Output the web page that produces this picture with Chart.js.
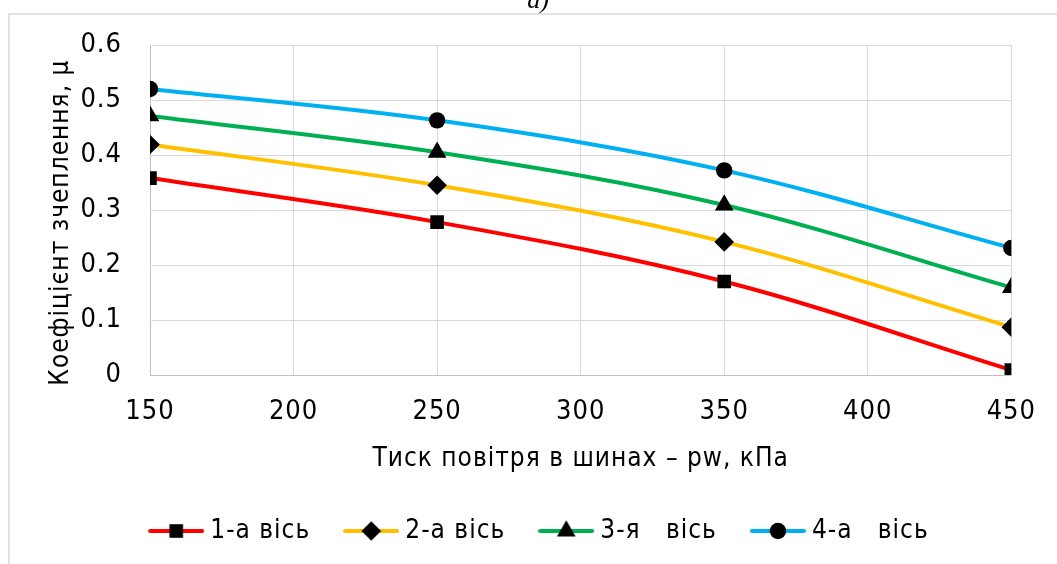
<!DOCTYPE html>
<html>
<head>
<meta charset="utf-8">
<script src="https://cdn.jsdelivr.net/npm/chart.js@4.4.1/dist/chart.umd.min.js"></script>
<style>
  html, body { margin: 0; padding: 0; background: #fff; overflow: hidden; }
  canvas { display: block; }
</style>
</head>
<body>
<canvas id="chart" width="1057" height="564"></canvas>
<script>
// Tyre air pressure, kPa
const pressures = [150, 250, 350, 450];
// Adhesion coefficient per axle
const axle1 = [0.358, 0.278, 0.170, 0.009];
const axle2 = [0.419, 0.345, 0.242, 0.087];
const axle3 = [0.471, 0.405, 0.309, 0.159];
const axle4 = [0.520, 0.463, 0.372, 0.231];

const seriesNames = ['1-а вісь', '2-а вісь', '3-я   вісь', '4-а   вісь'];
const seriesValues = [axle1, axle2, axle3, axle4];
const seriesColors = ['#FF0000', '#FFC000', '#00B050', '#00B0F0'];
const markerStyles = ['rect', 'rectRot', 'triangle', 'circle'];
const markerRadii = [9.6, 9.8, 10.8, 8.2];

const xTitle = 'Тиск повітря в шинах – pw, кПа';
const yTitle = 'Коефіцієнт зчеплення, μ   ';
const panelLabel = 'а)';

const TEXT_FONT = '"DejaVu Sans Condensed", "DejaVu Sans", sans-serif';
const NUM_FONT = '"Liberation Sans Narrow", "DejaVu Sans Condensed", sans-serif';

// Legend swatch: coloured line with the black marker in the middle
function makeSwatch(color, style, radius) {
  const c = document.createElement('canvas');
  c.width = 56; c.height = 26;
  const g = c.getContext('2d');
  g.strokeStyle = color;
  g.lineWidth = 4;
  g.lineCap = 'round';
  g.beginPath();
  g.moveTo(2, 13); g.lineTo(54, 13);
  g.stroke();
  g.fillStyle = '#000';
  g.strokeStyle = '#000';
  Chart.helpers.drawPoint(g, { pointStyle: style, radius: radius, borderWidth: 0 }, 28, 13);
  return c;
}

const datasets = seriesNames.map((name, i) => ({
  label: name,
  data: pressures.map((p, k) => ({ x: p, y: seriesValues[i][k] })),
  borderColor: seriesColors[i],
  backgroundColor: '#000',
  borderWidth: 4,
  tension: 0.35,
  pointStyle: markerStyles[i],
  pointRadius: markerRadii[i],
  pointBackgroundColor: '#000',
  pointBorderColor: '#000',
  pointBorderWidth: 0,
  swatch: makeSwatch(seriesColors[i], markerStyles[i], markerRadii[i])
}));

const spacingPlugin = {
  id: 'textSpacing',
  beforeUpdate(chart) { chart.ctx.letterSpacing = '1px'; },
  beforeDraw(chart) {
    const ctx = chart.ctx;
    ctx.letterSpacing = '1px';
    // outer frame of the chart
    ctx.save();
    ctx.strokeStyle = '#d9d9d9';
    ctx.lineWidth = 1.5;
    ctx.strokeRect(9, 14, 1200, 700);
    ctx.restore();
  },
  afterDraw(chart) {
    const ctx = chart.ctx;
    ctx.save();
    ctx.letterSpacing = '0px';
    ctx.fillStyle = '#000';
    ctx.font = 'italic 26px "Liberation Serif", serif';
    ctx.textAlign = 'center';
    ctx.textBaseline = 'alphabetic';
    ctx.fillText(panelLabel, 538, 8);
    ctx.restore();
  }
};

new Chart(document.getElementById('chart'), {
  type: 'line',
  data: { datasets },
  plugins: [spacingPlugin],
  options: {
    responsive: false,
    animation: false,
    layout: { padding: { left: 70, right: 43, top: 45, bottom: 10 } },
    plugins: {
      tooltip: { enabled: false },
      title: { display: false },
      legend: {
        display: true,
        position: 'bottom',
        align: 'center',
        labels: {
          usePointStyle: true,
          pointStyleWidth: 42,
          padding: 40,
          color: '#000',
          font: { family: TEXT_FONT, size: 26 },
          generateLabels(chart) {
            return chart.data.datasets.map((ds, i) => ({
              text: ds.label,
              pointStyle: ds.swatch,
              fillStyle: ds.borderColor,
              strokeStyle: ds.borderColor,
              lineWidth: 0,
              hidden: false,
              datasetIndex: i,
              fontColor: '#000'
            }));
          }
        }
      }
    },
    scales: {
      x: {
        type: 'linear',
        min: 150,
        max: 450,
        ticks: {
          stepSize: 50,
          padding: 21,
          color: '#000',
          font: { family: NUM_FONT, size: 27 },
          maxRotation: 0
        },
        grid: {
          drawTicks: false,
          lineWidth: 1,
          color: (c) => (c.index === 0 ? '#bfbfbf' : '#d9d9d9')
        },
        border: { display: false },
        title: {
          display: true,
          text: xTitle,
          color: '#000',
          font: { family: TEXT_FONT, size: 26, lineHeight: 1.2 },
          padding: { top: 0, bottom: 3 }
        },
        afterFit(scale) { scale.height = 103; }
      },
      y: {
        min: 0,
        max: 0.6,
        ticks: {
          stepSize: 0.1,
          padding: 28,
          color: '#000',
          font: { family: NUM_FONT, size: 27 }
        },
        grid: {
          drawTicks: false,
          lineWidth: 1,
          color: (c) => (c.index === 0 ? '#bfbfbf' : '#d9d9d9')
        },
        border: { display: false },
        title: {
          display: true,
          text: yTitle,
          color: '#000',
          font: { family: TEXT_FONT, size: 26, lineHeight: 1.2 },
          padding: { top: -24, bottom: 0 }
        },
        afterFit(scale) { scale.width = 80; }
      }
    }
  }
});
</script>
</body>
</html>
